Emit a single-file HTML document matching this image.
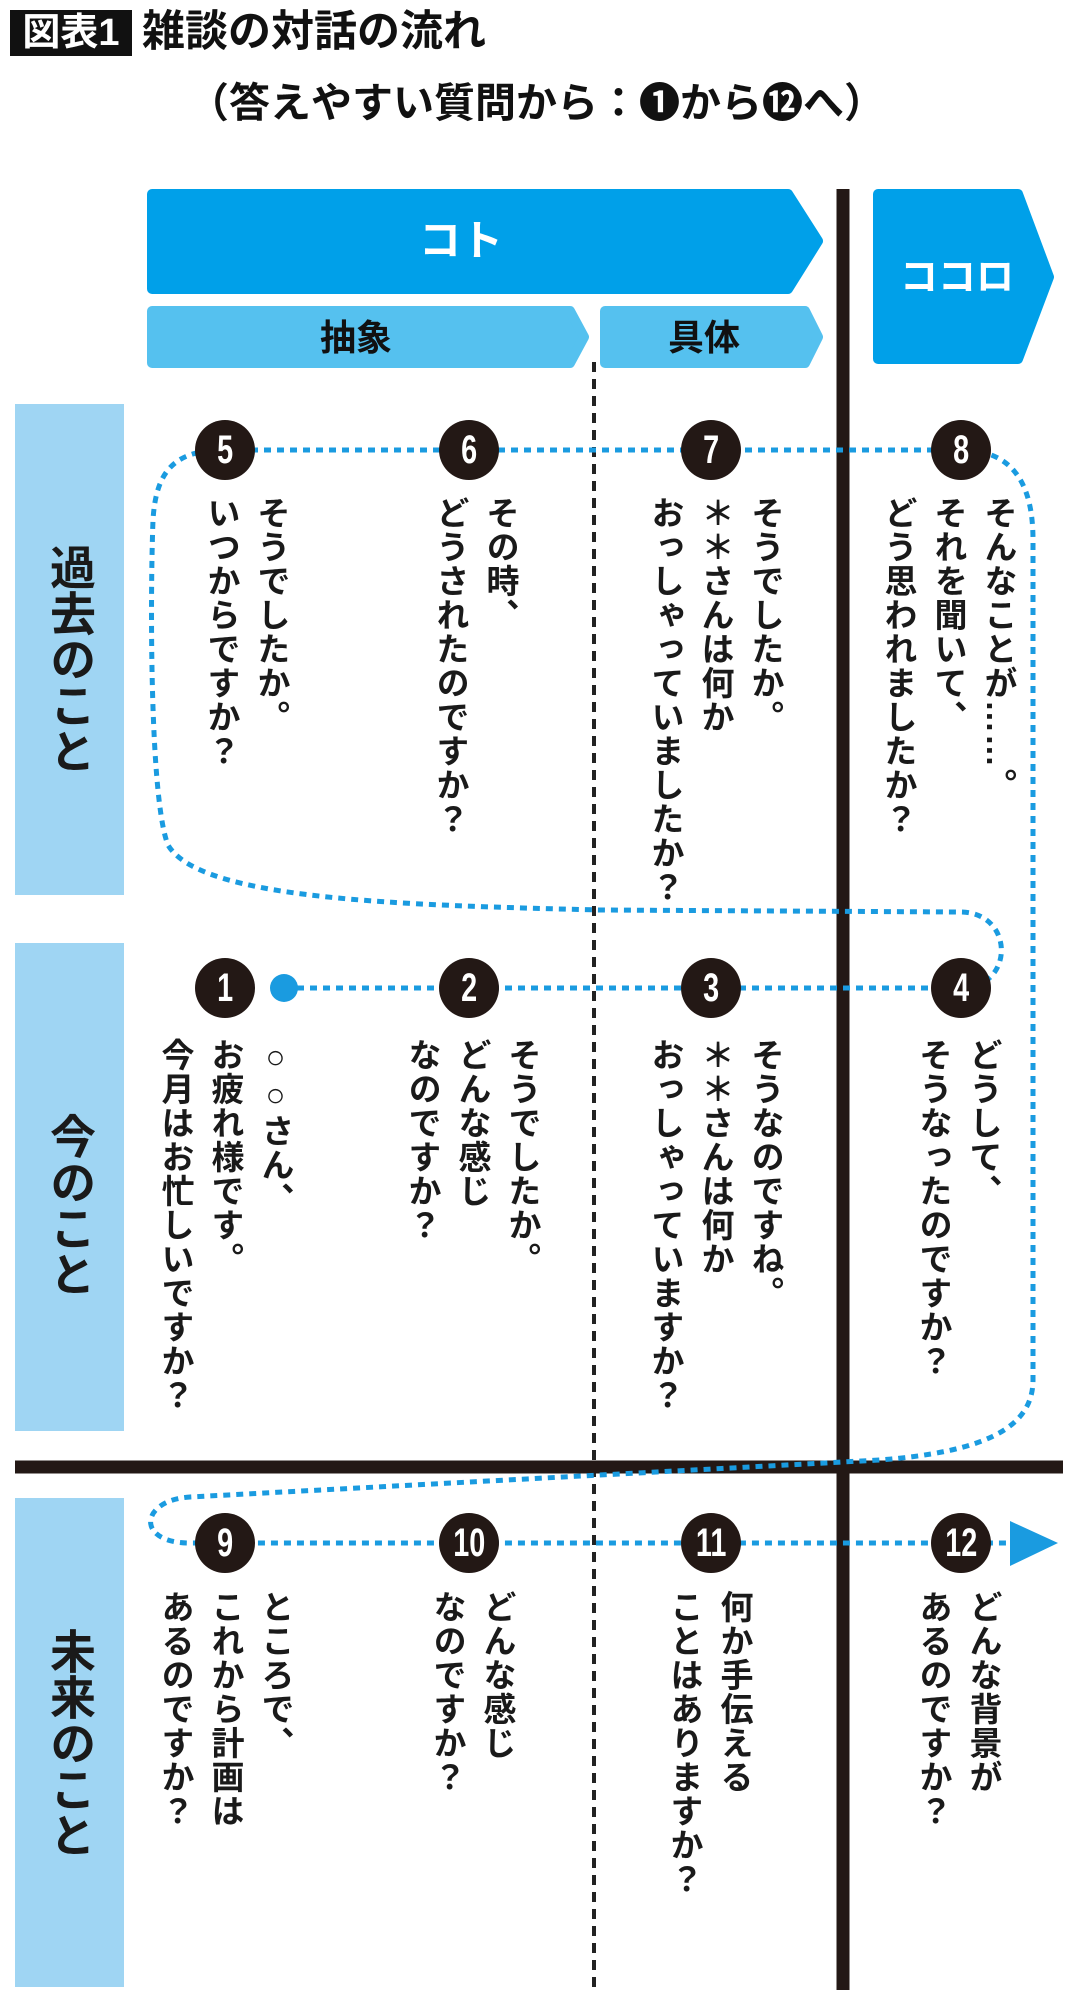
<!DOCTYPE html>
<html><head><meta charset="utf-8"><style>
body{margin:0;width:1080px;height:2000px;background:#fff;position:relative;overflow:hidden;font-family:"Liberation Sans","Noto Sans CJK JP",sans-serif;}
svg{position:absolute;left:0;top:0}
.v{position:absolute;writing-mode:vertical-rl;font-size:33px;line-height:50px;font-weight:700;color:#1a1a1a;white-space:nowrap;letter-spacing:1px}
.lab{position:absolute;left:15px;width:109px;background:#9fd5f3;}
.lab span{position:absolute;left:0;right:0;writing-mode:vertical-rl;font-size:46px;font-weight:700;line-height:109px;text-align:center;color:#1a1a1a}
.t{position:absolute;font-weight:700;white-space:nowrap}
.n{position:absolute;width:60px;height:60px;border-radius:50%;background:#231815;color:#fff;font-size:40px;font-weight:700;text-align:center;line-height:60px;font-family:"Liberation Sans",sans-serif}
.n b{display:inline-block;transform:scaleX(.72)}
</style></head><body>
<div class="t" style="left:10px;top:10px;width:122px;height:46px;background:#111;color:#fff;font-size:38px;line-height:46px;text-align:center">図表1</div>
<div class="t" style="left:142px;top:6px;font-size:43px;line-height:52px;color:#111">雑談の対話の流れ</div>
<div class="t" style="left:188px;top:78px;font-size:41px;line-height:50px;color:#111">（答えやすい質問から：❶から⓬へ）</div>

<svg width="1080" height="2000">
<g stroke-linejoin="round" stroke-width="10">
<polygon points="152,194 788,194 818,241 788,289 152,289" fill="#00a0e9" stroke="#00a0e9"/>
<polygon points="878,194 1018,194 1049,277 1018,359 878,359" fill="#00a0e9" stroke="#00a0e9"/>
<polygon points="152,311 570,311 584,337 570,363 152,363" fill="#55c1ef" stroke="#55c1ef"/>
<polygon points="605,311 805,311 818,337 805,363 605,363" fill="#55c1ef" stroke="#55c1ef"/>
</g>
<line x1="594" y1="362" x2="594" y2="1990" stroke="#222" stroke-width="4" stroke-dasharray="10 7"/>
<line x1="843" y1="189" x2="843" y2="1990" stroke="#231815" stroke-width="13"/>
<line x1="15" y1="1467" x2="1063" y2="1467" stroke="#231815" stroke-width="13"/>
<g fill="none" stroke="#1a9be0" stroke-width="5" stroke-dasharray="7 6">
<path d="M225 450 L961 450 C1010 450 1033 480 1033 540 L1033 1380 C1033 1430 980 1452 880 1460 L190 1497 C140 1500 135 1543 190 1543 L1010 1543"/>
<path d="M284 988 L961 988 C1015 988 1015 912 960 912 L600 910 C400 905 200 900 168 845 C150 800 150 600 153 520 C156 470 175 450 225 450"/>
</g>
<circle cx="284" cy="988" r="14" fill="#1a9be0"/>
<polygon points="1010,1521 1058,1543 1010,1566" fill="#1a9be0"/>
</svg>

<div class="t" style="left:419px;top:216px;font-size:42px;line-height:50px;color:#fff">コト</div>
<div class="t" style="left:900px;top:253px;font-size:38px;line-height:50px;color:#fff">ココロ</div>
<div class="t" style="left:320px;top:314px;font-size:36px;line-height:48px;color:#111">抽象</div>
<div class="t" style="left:668px;top:314px;font-size:36px;line-height:48px;color:#111">具体</div>

<div class="lab" style="top:404px;height:491px"><span style="top:140px">過去のこと</span></div>
<div class="lab" style="top:943px;height:488px"><span style="top:170px">今のこと</span></div>
<div class="lab" style="top:1498px;height:489px"><span style="top:130px">未来のこと</span></div>

<div class="n" style="left:195px;top:420px"><b>5</b></div>
<div class="n" style="left:439px;top:420px"><b>6</b></div>
<div class="n" style="left:681px;top:420px"><b>7</b></div>
<div class="n" style="left:931px;top:420px"><b>8</b></div>
<div class="n" style="left:195px;top:958px"><b>1</b></div>
<div class="n" style="left:439px;top:958px"><b>2</b></div>
<div class="n" style="left:681px;top:958px"><b>3</b></div>
<div class="n" style="left:931px;top:958px"><b>4</b></div>
<div class="n" style="left:195px;top:1513px"><b>9</b></div>
<div class="n" style="left:439px;top:1513px"><b>10</b></div>
<div class="n" style="left:681px;top:1513px"><b>11</b></div>
<div class="n" style="left:931px;top:1513px"><b>12</b></div>

<div class="v" style="left:196px;top:496px">そうでしたか。<br>いつからですか？</div>
<div class="v" style="left:425px;top:496px">その時、<br>どうされたのですか？</div>
<div class="v" style="left:640px;top:496px">そうでしたか。<br>＊＊さんは何か<br>おっしゃっていましたか？</div>
<div class="v" style="left:873px;top:496px">そんなことが……。<br>それを聞いて、<br>どう思われましたか？</div>

<div class="v" style="left:150px;top:1038px">○○さん、<br>お疲れ様です。<br>今月はお忙しいですか？</div>
<div class="v" style="left:397px;top:1038px">そうでしたか。<br>どんな感じ<br>なのですか？</div>
<div class="v" style="left:640px;top:1038px">そうなのですね。<br>＊＊さんは何か<br>おっしゃっていますか？</div>
<div class="v" style="left:908px;top:1038px">どうして、<br>そうなったのですか？</div>

<div class="v" style="left:150px;top:1590px">ところで、<br>これから計画は<br>あるのですか？</div>
<div class="v" style="left:422px;top:1590px">どんな感じ<br>なのですか？</div>
<div class="v" style="left:659px;top:1590px">何か手伝える<br>ことはありますか？</div>
<div class="v" style="left:908px;top:1590px">どんな背景が<br>あるのですか？</div>
</body></html>
